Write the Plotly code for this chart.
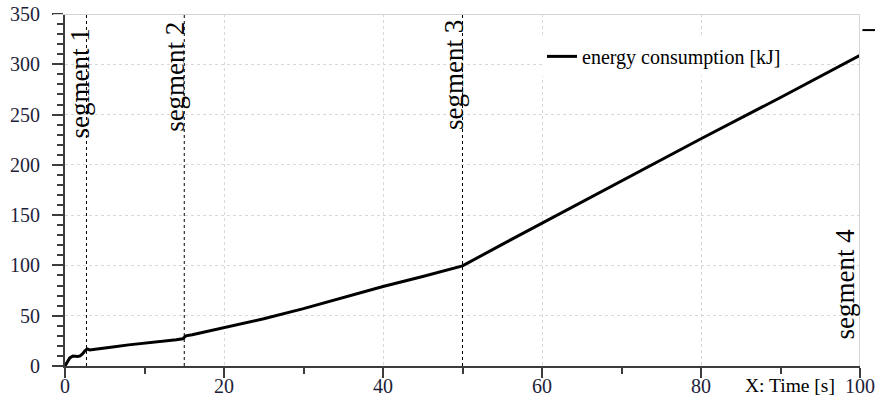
import plotly.graph_objects as go

# ---- data ----
time_s = [0, 0.3, 0.6, 1.0, 1.3, 1.6, 1.9, 2.2, 2.5, 2.8, 3.1, 3.5, 4, 5, 6, 8, 10, 12, 14, 14.8,
          15.2, 16, 18, 20, 25, 30, 35, 40, 45, 50, 55, 60, 70, 80, 90, 100]
energy_kj = [0, 4, 8, 10, 9.5, 9.5, 10, 12, 15, 17, 16, 16.5, 17, 18, 19, 21, 22.5, 24.5, 26, 27,
             30, 31, 34.5, 38, 47, 57, 68, 79, 89, 99.5, 121, 142, 184, 226, 267, 309]
segment_times = [2.7, 15, 50]
segment_labels = ["segment 1", "segment 2", "segment 3", "segment 4"]
segment_label_x = [1.9, 13.9, 49.0, 98.1]
segment_label_y = [281, 287, 289, 82]
x_ticks = [0, 20, 40, 60, 80, 100]
y_ticks = [0, 50, 100, 150, 200, 250, 300, 350]

FONT = "Liberation Serif"
TXT = "#1e1e3a"
AX = "#3c3c3c"
GRID = "#d8d8d8"

fig = go.Figure()
fig.add_trace(go.Scatter(
    x=time_s, y=energy_kj, mode="lines", name="energy consumption [kJ]",
    line=dict(color="black", width=3)))

shapes = []
for t in segment_times:
    shapes.append(dict(type="line", xref="x", yref="y", x0=t, x1=t, y0=0, y1=356,
                       line=dict(color="black", width=1, dash="dot")))
# light frame top / right
shapes.append(dict(type="line", xref="paper", yref="y", x0=-0.015, x1=1, y0=350, y1=350,
                   line=dict(color="#d4d4d4", width=2)))
shapes.append(dict(type="line", xref="x", yref="paper", x0=100, x1=100, y0=0, y1=1,
                   line=dict(color="#d4d4d4", width=2)))
# small clipped marker at right edge
shapes.append(dict(type="line", xref="paper", yref="y", x0=1.003, x1=1.025, y0=334, y1=334,
                   line=dict(color="black", width=2)))

annotations = []
for lab, lx, ly in zip(segment_labels, segment_label_x, segment_label_y):
    annotations.append(dict(x=lx, y=ly, xref="x", yref="y", text=lab, showarrow=False,
                            textangle=-90, font=dict(family=FONT, size=27, color="black")))
annotations.append(dict(x=0.912, y=-0.055, xref="paper", yref="paper", text="X: Time [s]",
                        showarrow=False, xanchor="center", yanchor="middle",
                        font=dict(family=FONT, size=19.5, color="black")))

fig.update_layout(
    width=875, height=403,
    margin=dict(l=65, r=15, t=14, b=37, autoexpand=False),
    paper_bgcolor="white", plot_bgcolor="white",
    font=dict(family=FONT, size=20, color=TXT),
    showlegend=True,
    legend=dict(x=0.6, y=0.935, xanchor="left", yanchor="top", bgcolor="white",
                font=dict(family=FONT, size=20, color="black")),
    shapes=shapes, annotations=annotations,
)
fig.update_xaxes(
    range=[0, 100], tickvals=x_ticks, showgrid=True, gridcolor=GRID, griddash="dot",
    gridwidth=1, zeroline=False, showline=True, linecolor=AX, linewidth=2,
    ticks="outside", ticklen=10, tickwidth=2, tickcolor=AX, automargin=False,
    minor=dict(dtick=10, ticks="outside", ticklen=6, tickwidth=2, tickcolor=AX, showgrid=False),
    tickfont=dict(family=FONT, size=20, color=TXT), ticklabelstandoff=-9,
    ticklabeloverflow="allow",
)
fig.update_yaxes(
    range=[0, 350], tickvals=y_ticks, showgrid=True, gridcolor=GRID, griddash="dot",
    gridwidth=1, zeroline=False, showline=True, linecolor=AX, linewidth=2,
    ticks="outside", ticklen=11, tickwidth=2, tickcolor=AX, automargin=False,
    minor=dict(dtick=10, ticks="outside", ticklen=6, tickwidth=2, tickcolor=AX, showgrid=False),
    tickfont=dict(family=FONT, size=20, color=TXT), ticklabelstandoff=8,
    ticklabeloverflow="allow",
)

fig.write_html("out.html", config={"displayModeBar": False},
               post_script="document.body.style.margin='0';document.body.style.overflow='hidden';")
